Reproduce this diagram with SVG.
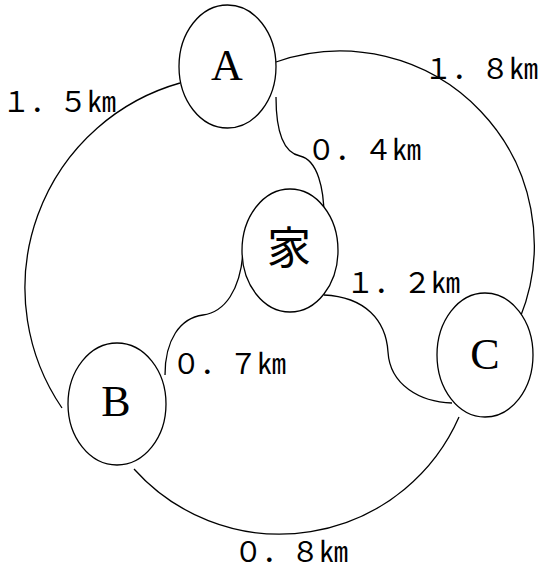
<svg xmlns="http://www.w3.org/2000/svg" width="542" height="571" viewBox="0 0 542 571">
<style>
.n{fill:#fff;stroke:#000;stroke-width:1.3}
.c{fill:none;stroke:#000;stroke-width:1.3}
.l{font-family:"Liberation Serif",serif;font-size:44px;text-anchor:middle;fill:#000}
.j{font-family:"Noto Sans CJK JP",sans-serif;font-size:44px;text-anchor:middle;fill:#000}
.d{font-family:"Noto Sans CJK JP",sans-serif;font-size:28.5px;fill:#000}
</style>
<rect width="542" height="571" fill="#fff"/>
<g id="connectors">
<path class="c" d="M180,83 A213,213 0 0 0 62,408"/>
<path class="c" d="M276,62 A194,194 0 0 1 520,318"/>
<path class="c" d="M134,469 A195.7,195.7 0 0 0 459,417"/>
<path class="c" d="M276,97 C276,135 285,153 300,156 C318,160 324,190 324,216"/>
<path class="c" d="M243,253 C240,290 225,312 203,315 C180,318 165,340 165,375"/>
<path class="c" d="M324,295 C365,297 386,320 388,352 C390,385 420,402 452,403"/>
</g>
<g id="A"><ellipse class="n" cx="227.5" cy="66.5" rx="48.5" ry="61.5"/><text class="l" x="227" y="80">A</text></g>
<g id="home"><ellipse class="n" cx="290" cy="250.5" rx="48" ry="61.5"/><text class="j" x="289" y="264">家</text></g>
<g id="B"><ellipse class="n" cx="117" cy="404" rx="49" ry="61"/><text class="l" x="116" y="416">B</text></g>
<g id="C"><ellipse class="n" cx="485" cy="355" rx="48" ry="62"/><text class="l" x="485" y="369">C</text></g>
<g id="labels">
<text class="d" x="2" y="112">１．５㎞</text>
<text class="d" x="424" y="79">１．８㎞</text>
<text class="d" x="307" y="160">０．４㎞</text>
<text class="d" x="346" y="293">１．２㎞</text>
<text class="d" x="172" y="374">０．７㎞</text>
<text class="d" x="234" y="562">０．８㎞</text>
</g>
</svg>
